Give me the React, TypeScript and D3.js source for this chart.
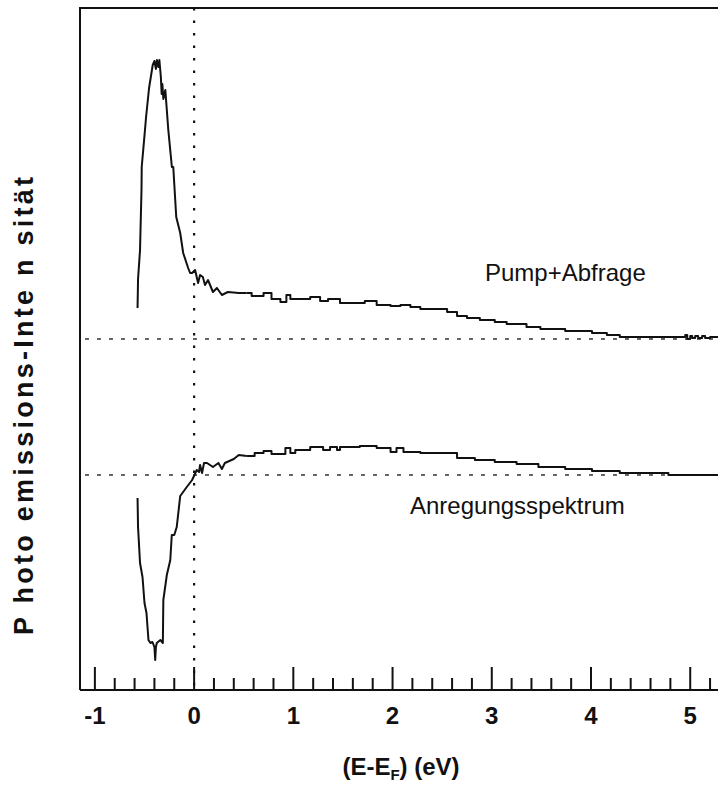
import React from "react";
import * as d3 from "d3";

// Energy axis (E - E_F) in eV, intensities in arbitrary units relative to each baseline
const pumpEnergy = [
  -0.57, -0.565, -0.545, -0.53, -0.528, -0.504, -0.484, -0.454, -0.417, -0.4, -0.385, -0.375, -0.36, -0.35,
  -0.335, -0.327, -0.32, -0.31, -0.29, -0.26, -0.224, -0.21, -0.18, -0.14, -0.11, -0.06, -0.04, -0.02,
  0.01, 0.04, 0.06, 0.088, 0.11, 0.14, 0.19, 0.23, 0.28, 0.34, 0.45, 0.53,
  0.58, 0.7, 0.78, 0.87, 0.93, 0.97, 1.14, 1.17, 1.27, 1.35, 1.42, 1.47, 1.6, 1.72, 1.84, 1.98, 2.08,
  2.18, 2.28, 2.55, 2.65, 2.75, 2.88, 3.03, 3.15, 3.35, 3.49, 3.74, 4.01, 4.16, 4.29, 4.93, 4.95, 4.97,
  5.0, 5.02, 5.05, 5.08, 5.12, 5.15, 5.2, 5.28,
];
const pumpIntensity = [
  31, 60, 89, 150, 172, 199, 222, 251, 274, 278, 270, 279, 272, 279,
  262, 245, 255, 240, 249, 209, 172, 172, 122, 106, 86, 71, 66, 66,
  69, 56, 64, 62, 54, 59, 47, 51, 44, 47, 46, 46,
  43, 46, 40, 37, 44, 40, 40, 42, 38, 40, 40, 36, 36, 38, 34, 33, 34,
  32, 30, 27, 23, 21, 19, 17, 15, 12, 10, 8, 6, 4, 2, 2, 4, 0,
  3, 1, 3, 1, 3, 1, 2, 2,
];

const excitEnergy = [
  -0.57, -0.565, -0.545, -0.52, -0.5, -0.48, -0.46, -0.44, -0.42, -0.4, -0.392, -0.385, -0.376, -0.34,
  -0.315, -0.31, -0.275, -0.24, -0.225, -0.2, -0.175, -0.14, -0.074, -0.02, 0.027, 0.05, 0.06, 0.08,
  0.1, 0.13, 0.19, 0.245, 0.28, 0.31, 0.4, 0.45, 0.53,
  0.61, 0.7, 0.78, 0.87, 0.92, 0.97, 1.02, 1.14, 1.17, 1.27, 1.3, 1.37, 1.44, 1.47, 1.67, 1.84, 1.98,
  2.04, 2.11, 2.28, 2.65, 2.83, 3.03, 3.25, 3.45, 3.47, 3.74, 4.01, 4.29, 4.78, 5.28,
];
const excitIntensity = [
  -23, -52, -88, -102, -128, -138, -165, -168, -167, -172, -185, -172, -168, -165,
  -168, -125, -100, -85, -60, -60, -52, -21, -12, -5, 5, 3, 10, 2,
  12, 12, 8, 12, 6, 12, 16, 20, 19,
  22, 24, 21, 21, 27, 22, 25, 25, 28, 28, 25, 28, 25, 28, 29, 27, 23,
  27, 23, 22, 17, 15, 13, 11, 11, 8, 6, 4, 2, 0, 0,
];

const seriesBaselines = [351, 215]; // pump+probe, excitation
const seriesLabels = ["Pump+Abfrage", "Anregungsspektrum"];
const majorTicks = [-1, 0, 1, 2, 3, 4, 5];
const minorTicks = d3.range(-0.8, 5.21, 0.2).filter((t) => Math.abs(t - Math.round(t)) > 1e-6);
const yTitle = "P hoto emissions-Inte n sität";

const W = 718;
const H = 785;
const left = 80;
const right = 718;
const top = 8;
const bottom = 690;

export default function App() {
  const x = d3.scaleLinear().domain([-1.15, 5.28]).range([left, right]);
  const y = d3.scaleLinear().domain([0, 682]).range([bottom, top]);

  const makeData = (es: number[], vs: number[], base: number) =>
    es.map((e, i) => ({ e, v: vs[i] + base }));

  const pump = makeData(pumpEnergy, pumpIntensity, seriesBaselines[0]);
  const excit = makeData(excitEnergy, excitIntensity, seriesBaselines[1]);

  const lin = d3
    .line<{ e: number; v: number }>()
    .x((d) => x(d.e))
    .y((d) => y(d.v))
    .curve(d3.curveLinear);
  const step = d3
    .line<{ e: number; v: number }>()
    .x((d) => x(d.e))
    .y((d) => y(d.v))
    .curve(d3.curveStepAfter);

  const split = 0.53;
  const font = "'Liberation Sans', Arial, Helvetica, sans-serif";

  return (
    <svg width={W} height={H} style={{ position: "absolute", left: 0, top: 0, background: "#fff" }}>
      <rect x={0} y={0} width={W} height={H} fill="#fff" />
      {/* baselines */}
      {seriesBaselines.map((b, i) => (
        <line
          key={i}
          x1={x(-1.1)}
          x2={right}
          y1={y(b)}
          y2={y(b)}
          stroke="#333"
          strokeWidth={1.3}
          strokeDasharray="4,8"
        />
      ))}
      {/* vertical dotted line at E_F */}
      <line x1={x(0)} x2={x(0)} y1={top} y2={bottom} stroke="#111" strokeWidth={2.2} strokeDasharray="2.5,10" />

      {/* curves */}
      {[pump, excit].map((data, i) => (
        <g key={i} fill="none" stroke="#111" strokeWidth={2} strokeLinejoin="round">
          <path d={lin(data.filter((d) => d.e <= split)) || ""} />
          <path d={step(data.filter((d) => d.e >= split)) || ""} />
        </g>
      ))}

      {/* frame */}
      <path d={`M${left},${bottom}V${top}H${right}`} fill="none" stroke="#111" strokeWidth={2} />
      <line x1={left} x2={right} y1={bottom} y2={bottom} stroke="#111" strokeWidth={2} />

      {/* ticks */}
      {majorTicks.map((t) => (
        <g key={"M" + t}>
          <line x1={x(t)} x2={x(t)} y1={bottom} y2={bottom - 23} stroke="#111" strokeWidth={2} />
          <text
            x={x(t)}
            y={724}
            textAnchor="middle"
            fontFamily={font}
            fontWeight="bold"
            fontSize={24}
            fill="#111"
          >
            {t}
          </text>
        </g>
      ))}
      {minorTicks.map((t, i) => (
        <line key={"m" + i} x1={x(t)} x2={x(t)} y1={bottom} y2={bottom - 12} stroke="#111" strokeWidth={2} />
      ))}

      {/* series labels */}
      <text x={485} y={281} fontFamily={font} fontSize={24} fill="#111">
        {seriesLabels[0]}
      </text>
      <text x={410} y={514} fontFamily={font} fontSize={24} fill="#111">
        {seriesLabels[1]}
      </text>

      {/* axis titles */}
      <text x={401} y={775} textAnchor="middle" fontFamily={font} fontWeight="bold" fontSize={24} fill="#111">
        (E-E
        <tspan fontSize={15} dy={5}>
          F
        </tspan>
        <tspan dy={-5}>) (eV)</tspan>
      </text>
      <text
        transform="translate(33,406) rotate(-90)"
        textAnchor="middle"
        fontFamily={font}
        fontWeight="bold"
        fontSize={27}
        fill="#111"
        textLength={458}
        lengthAdjust="spacing"
      >
        {yTitle}
      </text>
    </svg>
  );
}
